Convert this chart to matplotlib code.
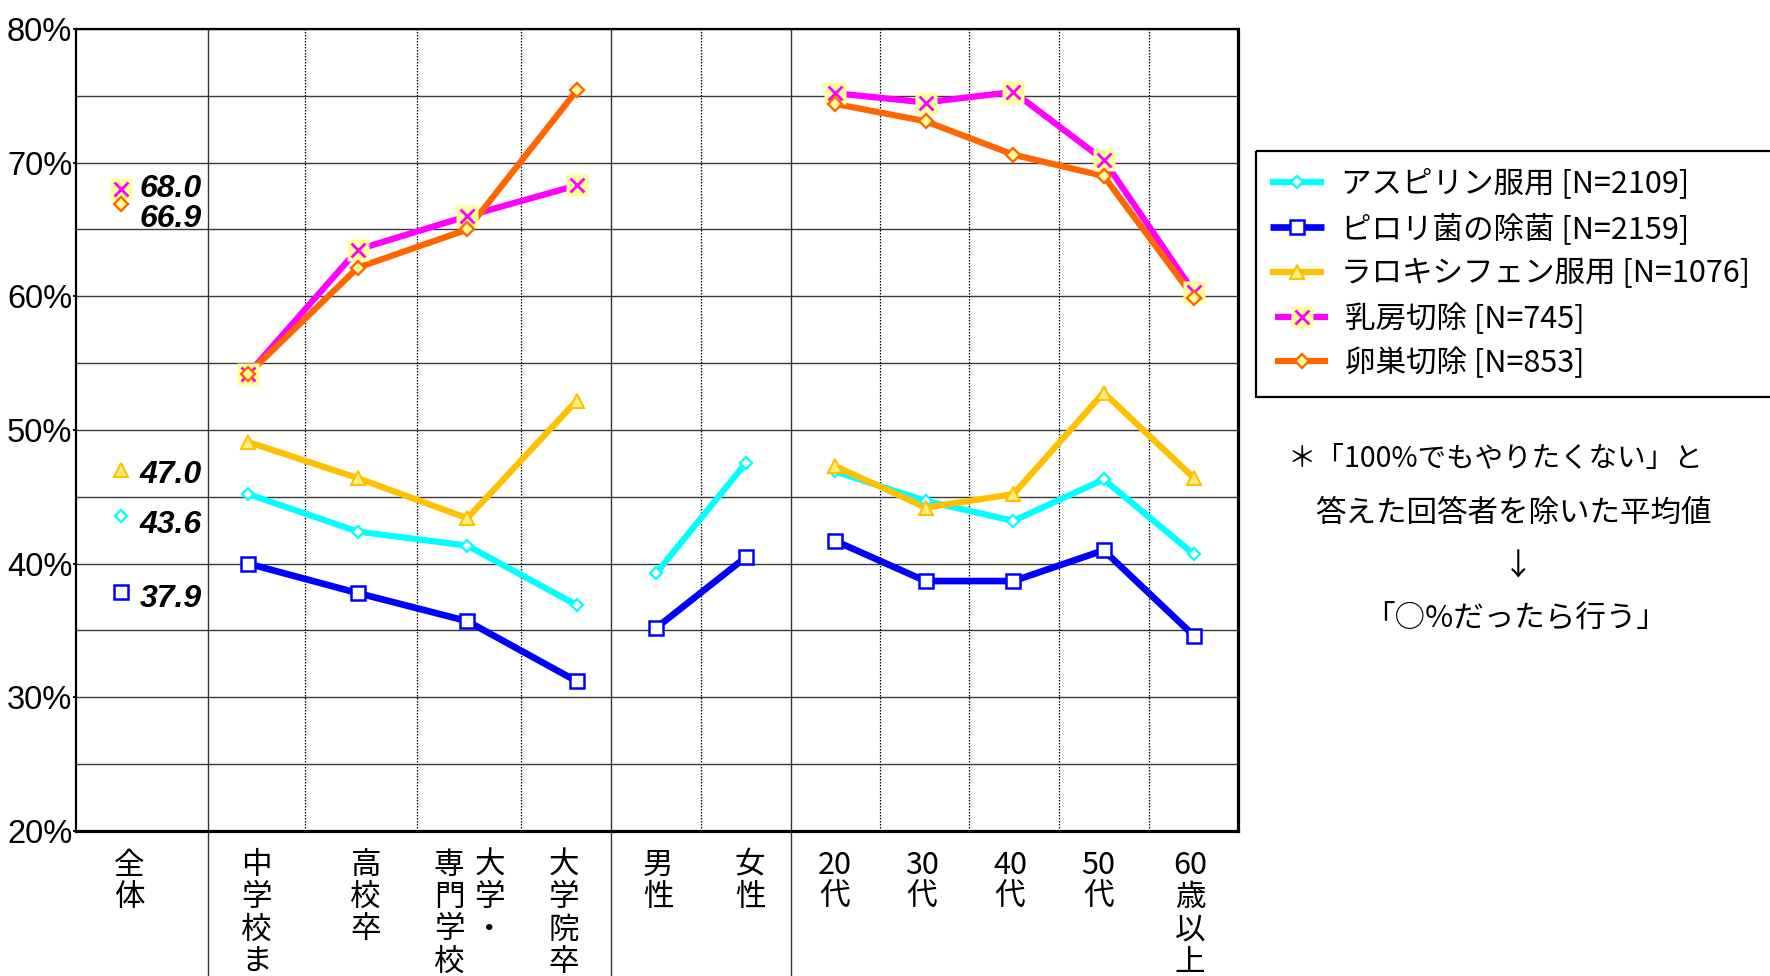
import matplotlib
matplotlib.use("Agg")
import re
import matplotlib.pyplot as plt
import matplotlib.transforms as mtransforms
from matplotlib.patches import Rectangle

# ---------------- data ----------------
categories = ["全体", "中学校まで", "高校卒", "大学・専門学校", "大学院卒",
              "男性", "女性", "20代", "30代", "40代", "50代", "60歳以上"]
# index groups: lines are drawn only inside a group
groups = [[0], [1, 2, 3, 4], [5, 6], [7, 8, 9, 10, 11]]

aspirin = [43.6, 45.2, 42.4, 41.35, 36.9, 39.3, 47.55, 46.9, 44.7, 43.2, 46.3, 40.7]
pylori  = [37.9, 40.0, 37.8, 35.7, 31.2, 35.2, 40.5, 41.7, 38.7, 38.7, 41.0, 34.6]
ralox   = [47.0, 49.1, 46.4, 43.4, 52.2, None, None, 47.3, 44.2, 45.2, 52.8, 46.4]
breast  = [68.0, 54.2, 63.5, 66.0, 68.3, None, None, 75.2, 74.5, 75.3, 70.2, 60.3]
ovary   = [66.9, 54.2, 62.15, 65.0, 75.4, None, None, 74.4, 73.1, 70.6, 69.0, 59.9]

series_values = [aspirin, pylori, ralox, breast, ovary]
series_names = ["アスピリン服用 [N=2109]", "ピロリ菌の除菌 [N=2159]",
                "ラロキシフェン服用 [N=1076]", "乳房切除 [N=745]", "卵巣切除 [N=853]"]

y_major = [20, 30, 40, 50, 60, 70, 80]
y_minor = [25, 35, 45, 55, 65, 75]

note_lines = ["＊「100%でもやりたくない」と", "答えた回答者を除いた平均値", "↓", "「○%だったら行う」"]

# ---------------- layout ----------------
W, H = 1770, 976
PX_LEFT, PX_RIGHT, PX_TOP, PX_BOTTOM = 75.6, 1237.6, 29, 831
x_pos = [45, 172.7, 282.2, 391.7, 501.2, 580.7, 670.5, 759.6, 849.9, 937.8, 1028.1, 1118.4]
solid_sep = [132, 535, 715]
dotted_sep = [229.3, 341.8, 445.4, 625.4, 804.7, 893.4, 983.0, 1073.3]
label_x = [[54], [181], [290], [414, 373.4], [488], [582.5], [674.5],
           [759.4], [846], [934.4], [1022.7], [1114.4]]
overall_label_x = 64
overall_label_dy = [-1.30, -1.13, -0.96, -0.57, -1.71]  # baseline offsets

CJK = ["Noto Sans CJK JP", "DejaVu Sans"]
LAT = ["Liberation Sans", "DejaVu Sans"]
PALE = "#FFFF99"

styles = [
    dict(color="#00FFFF", lw=4.5, marker="D", ms=6.3, mfc="white", mec="#00FFFF", mew=1.6, bg=None),
    dict(color="#0000FF", lw=4.8, marker="s", ms=9.5, mfc="white", mec="#0000FF", mew=1.8, bg=None),
    dict(color="#FFC000", lw=4.5, marker="^", ms=9.5, mfc="#FFF07A", mec="#FFC000", mew=1.5, bg=None),
    dict(color="#FF00FF", lw=4.5, marker="x", ms=9.5, mfc="#FF00FF", mec="#FF00FF", mew=2.0, bg=PALE),
    dict(color="#FF6600", lw=4.5, marker="D", ms=6.8, mfc=PALE, mec="#FF6600", mew=1.7, bg=None),
]

fig = plt.figure(figsize=(W / 100, H / 100), dpi=100)
over = fig.add_axes([0, 0, 1, 1])
over.set_xlim(0, W)
over.set_ylim(H, 0)
over.axis("off")

ax = fig.add_axes([PX_LEFT / W, (H - PX_BOTTOM) / H,
                   (PX_RIGHT - PX_LEFT) / W, (PX_BOTTOM - PX_TOP) / H])
ax.set_xlim(0, PX_RIGHT - PX_LEFT)
ax.set_ylim(20, 80)

# grid
ax.set_yticks(y_major)
ax.set_yticks(y_minor, minor=True)
ax.set_yticklabels([f"{v}%" for v in y_major], family=LAT, fontsize=23.5)
ax.tick_params(axis="y", which="major", length=2.5, width=1.3, direction="out", pad=0)
ax.tick_params(axis="y", which="minor", length=0)
ax.set_xticks([])
ax.grid(axis="y", which="both", color="#3a3a3a", lw=1.0, zorder=0)
ax.set_axisbelow(True)

for x in solid_sep:
    ax.axvline(x, ymin=-0.2, ymax=1, color="#333333", lw=1.0, clip_on=False, zorder=1)
for x in dotted_sep:
    ax.axvline(x, color="black", lw=0.9, ls=(0, (1.2, 1.2)), zorder=1)

for side, lw in (("top", 1.6), ("left", 1.6), ("right", 2.3), ("bottom", 2.3)):
    ax.spines[side].set_linewidth(lw)
    ax.spines[side].set_color("black")


def draw_markers(axis, xs, ys, st, z, **kw):
    if st["bg"]:
        axis.plot(xs, ys, ls="none", marker="s", ms=15.5, mfc=st["bg"], mec="none", zorder=z, **kw)
    axis.plot(xs, ys, ls="none", marker=st["marker"], ms=st["ms"], mfc=st["mfc"],
              mec=st["mec"], mew=st["mew"], zorder=z + 0.1, **kw)


# lines
for si, (vals, st) in enumerate(zip(series_values, styles)):
    for g in groups:
        pts = [(x_pos[i], vals[i]) for i in g if vals[i] is not None]
        if len(pts) > 1:
            ax.plot([p[0] for p in pts], [p[1] for p in pts], color=st["color"],
                    lw=st["lw"], solid_capstyle="butt", zorder=3 + si * 0.1)
# markers
for si, (vals, st) in enumerate(zip(series_values, styles)):
    pts = [(x_pos[i], v) for i, v in enumerate(vals) if v is not None]
    draw_markers(ax, [p[0] for p in pts], [p[1] for p in pts], st, 5 + si * 0.2)

# overall value labels
for vals, dy in zip(series_values, overall_label_dy):
    ax.text(overall_label_x, vals[0] + dy, f"{vals[0]:.1f}", family=LAT, fontsize=23,
            fontweight="bold", fontstyle="italic", ha="left", va="baseline", zorder=6)

# category labels (vertical text)
trans = mtransforms.blended_transform_factory(ax.transData, over.transData)
for cat, xs in zip(categories, label_x):
    if "・" in cat:
        k = cat.index("・") + 1
        cols = [cat[:k], cat[k:]]
    else:
        cols = [cat]
    for col, lx in zip(cols, xs):
        tokens = re.findall(r"\d+|.", col)
        for j, tk in enumerate(tokens):
            over.text(lx, 865 + j * 32.5, tk, transform=trans, family=CJK, fontsize=22,
                      ha="center", va="center", clip_on=False)

# legend (manual)
leg_rows = [181.7, 226.9, 272.0, 317.2, 361.2]
leg_handle = [(1270, 1324), (1270, 1324), (1270, 1324), (1275, 1328), (1275, 1328)]
leg_text_x = [1341, 1341, 1341, 1345, 1345]
over.add_patch(Rectangle((1256, 151), 600, 246, fill=False, ec="black", lw=1.6, clip_on=False))
for name, st, y, (h0, h1), tx in zip(series_names, styles, leg_rows, leg_handle, leg_text_x):
    over.plot([h0, h1], [y, y], color=st["color"], lw=st["lw"], solid_capstyle="butt")
    draw_markers(over, [(h0 + h1) / 2], [y], st, 3)
    over.text(tx, y + 2, name, family=CJK, fontsize=22, ha="left", va="center")

# note
note_xy = [(1495, 459), (1513, 513), (1518, 567), (1516, 618)]
note_size = [20.5, 22, 22, 22]
for line, (nx, ny), fs in zip(note_lines, note_xy, note_size):
    over.text(nx, ny, line, family=CJK, fontsize=fs, ha="center", va="center")

fig.savefig("out.png", dpi=100)
